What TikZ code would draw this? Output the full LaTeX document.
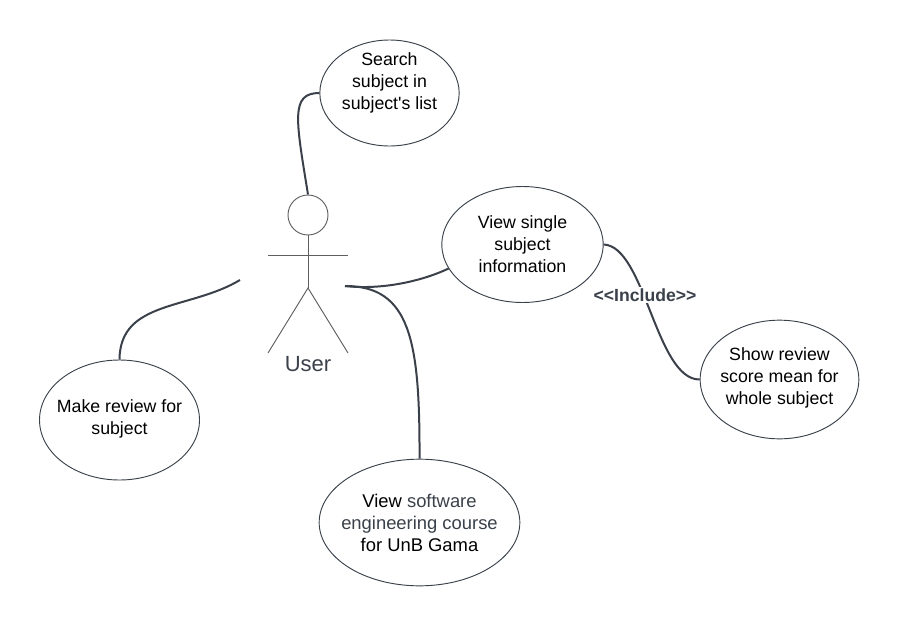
\documentclass[tikz,border=0pt]{standalone}
\usepackage{fontspec}
\setmainfont{Liberation Sans}
\usetikzlibrary{shapes.geometric}
\definecolor{linegray}{HTML}{3A414A}
\definecolor{stickgray}{HTML}{5E5E5E}
\tikzset{
	usecase/.style = {draw=linegray, fill=white, ellipse, inner sep=-12pt, align=center, font=\fontsize{13.3}{16.5}\selectfont, line width=0.7pt},
	link/.style    = {draw=linegray, line width=1.5pt},
	stick/.style   = {draw=stickgray, line width=0.7pt},
	hidden/.style  = {coordinate},
}

\begin{document}
\begin{tikzpicture}[x=0.75pt, y=-0.75pt]
		\useasboundingbox (0,0) rectangle (900,628);

		% Draw the use case nodes
		\draw
			node[usecase, minimum width=104.5pt, minimum height=79.5pt] (search) at (389.5,93) {Search\\subject in\\subject\textquotesingle s list\\[-3pt]\strut}
			node[usecase, minimum width=121pt, minimum height=87pt] (single) at (522.5,244.5) {View single\\subject\\information}
			node[usecase, minimum width=119pt, minimum height=89pt] (review) at (779.5,379.5) {Show review\\score mean for\\whole subject\\[-16pt]\strut}
			node[usecase, minimum width=120pt, minimum height=90pt] (make) at (119.5,420) {Make review for\\subject\\[-16.5pt]\strut}
			node[usecase, minimum width=150.5pt, minimum height=95pt, font=\fontsize{13.8}{16.5}\selectfont] (course) at (419.5,522.5) {View {\color{linegray}software}\\{\color{linegray}engineering course}\\for UnB Gama};

		% Draw the actor nodes
		\draw
			node[draw=stickgray, circle, minimum size=30pt, inner sep=0pt, line width=0.7pt] (head) at (308,215) {}
			node[hidden] (armleft) at (268,255) {}
			node[hidden] (armright) at (348,255) {}
			node[hidden] (hip) at (308,288) {}
			node[hidden] (footleft) at (268,353) {}
			node[hidden] (footright) at (348,353) {}
			node[text=linegray, font=\fontsize{16.5}{16.5}\selectfont] (user) at (308,364) {User}
			node[hidden] (userright) at (345,286) {}
			node[hidden] (userleft) at (240,280) {};

		% Connect the actor together
		\draw[stick] (head) -- (hip);
		\draw[stick] (armleft) -- (armright);
		\draw[stick] (footleft) -- (hip) -- (footright);

		% Connect the use cases
		\draw[link] (search.west) .. controls (290,93) and (296,120) .. (head.north);
		\draw[link] (userright) .. controls (380,290) and (420,282) .. (single.198);
		\draw[link] (userright) .. controls (410,286) and (420,340) .. (course.north);
		\draw[link] (make.north) .. controls (120,300) and (190,310) .. (userleft);
		\draw[link] (single.east) .. controls (645,246) and (656,380) .. (review.west)
			node[fill=white, text=linegray, inner sep=1pt, font=\bfseries\fontsize{13.2}{13.2}\selectfont] (include) at (645,295) {<{}<Include>{}>};
	\end{tikzpicture}
\end{document}
